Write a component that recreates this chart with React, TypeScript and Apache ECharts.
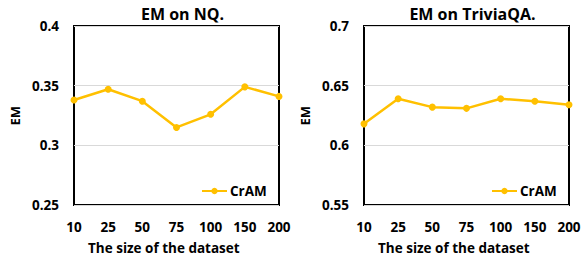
import React, { useEffect, useRef } from "react";
import * as echarts from "echarts";

const categories = ["10", "25", "50", "75", "100", "150", "200"];
const nqValues = [0.338, 0.347, 0.337, 0.315, 0.326, 0.349, 0.341];
const triviaValues = [0.618, 0.639, 0.632, 0.631, 0.639, 0.637, 0.634];
const seriesName = "CrAM";
const titles = ["EM on NQ.", "EM on TriviaQA."];
const xName = "The size of the dataset";
const yName = "EM";

const FONT = "'Open Sans', 'Liberation Sans', sans-serif";
const GOLD = "#FFC000";

export default function App() {
  const ref = useRef<HTMLDivElement>(null);
  useEffect(() => {
    if (!ref.current) return;
    const chart = echarts.init(ref.current, undefined, { renderer: "svg" });
    const grids = [
      { left: 74, top: 26, width: 205, height: 179 },
      { left: 364, top: 26, width: 205, height: 179 },
    ];
    const yRanges = [
      { min: 0.25, max: 0.4 },
      { min: 0.55, max: 0.7 },
    ];
    const labelStyle = { fontFamily: FONT, fontWeight: "bold" as const, fontSize: 13.5, color: "#000" };
    chart.setOption({
      animation: false,
      backgroundColor: "#fff",
      title: grids.map((g, i) => ({
        text: titles[i],
        left: g.left + g.width / 2 + 1,
        top: 1,
        textAlign: "center",
        textStyle: { fontFamily: FONT, fontWeight: "bold", fontSize: 16, color: "#000" },
      })),
      grid: grids.map((g) => ({
        ...g,
        show: true,
        borderColor: "#000",
        borderWidth: 2,
        backgroundColor: "transparent",
      })),
      xAxis: grids.map((_, i) => ({
        type: "category",
        gridIndex: i,
        data: categories,
        boundaryGap: false,
        axisLine: { show: false },
        axisTick: { show: false },
        axisLabel: { ...labelStyle, margin: 15 },
        splitLine: { show: false },
      })),
      yAxis: grids.map((_, i) => ({
        type: "value",
        gridIndex: i,
        min: yRanges[i].min,
        max: yRanges[i].max,
        interval: 0.05,
        axisLine: { show: false },
        axisTick: { show: false },
        axisLabel: { ...labelStyle, margin: 15, formatter: (v: number) => String(Math.round(v * 100) / 100) },
        splitLine: { show: true, lineStyle: { color: "#d9d9d9", width: 1 } },
      })),
      legend: grids.map((g) => ({
        data: [seriesName],
        left: g.left + 122,
        top: 179,
        itemWidth: 25,
        itemHeight: 8,
        itemGap: 4,
        textStyle: { ...labelStyle, padding: [0, 0, 0, -2] },
      })),
      graphic: grids.flatMap((g) => [
        {
          type: "text",
          left: g.left + 14,
          top: 241,
          style: { text: xName, font: `bold 13.5px ${FONT}`, fill: "#000" },
        },
        {
          type: "text",
          x: g.left - 66,
          y: g.top + g.height / 2 + 10,
          rotation: Math.PI / 2,
          style: { text: yName, font: `bold 13px ${FONT}`, fill: "#000" },
        },
      ]),
      series: [nqValues, triviaValues].map((vals, i) => ({
        name: seriesName,
        type: "line",
        xAxisIndex: i,
        yAxisIndex: i,
        data: vals,
        symbol: "circle",
        symbolSize: 7,
        lineStyle: { color: GOLD, width: 2.5 },
        itemStyle: { color: GOLD },
      })),
    });
    return () => chart.dispose();
  }, []);
  return (
    <div
      ref={ref}
      style={{ position: "fixed", left: 0, top: 0, width: 585, height: 262 }}
    />
  );
}
